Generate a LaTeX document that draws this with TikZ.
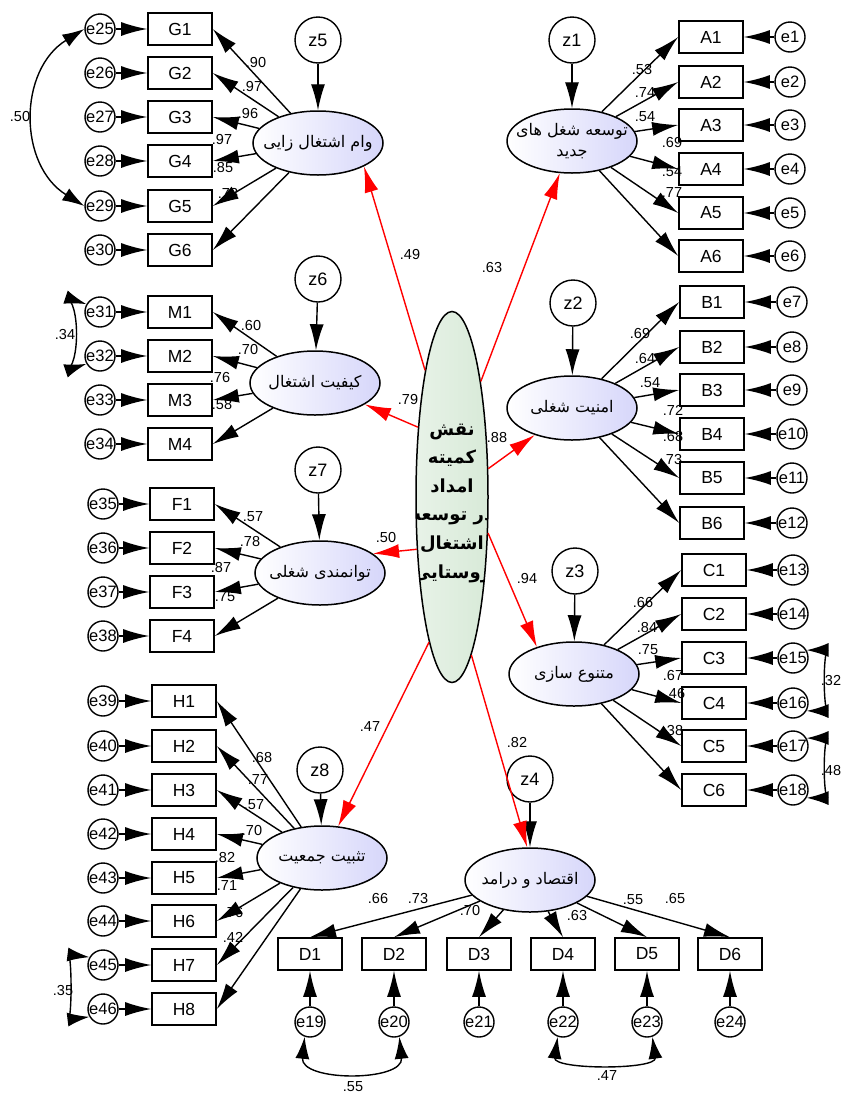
\documentclass[tikz,border=0pt]{standalone}
\usepackage{fontspec}
\setmainfont{Liberation Sans}
\newfontfamily\fa[Script=Arabic]{DejaVu Sans}
\TeXXeTstate=1
\usetikzlibrary{shapes.geometric,arrows.meta}
\definecolor{lav}{RGB}{214,214,250}
\definecolor{cgreen}{RGB}{216,234,216}
\begin{document}
\begin{tikzpicture}[x=1pt,y=-1pt,
  obs/.style={draw, rectangle, line width=1.6pt, minimum width=64pt, minimum height=32pt, inner sep=0pt, font=\fontsize{17.5}{17.5}\selectfont},
  err/.style={draw, circle, line width=1.4pt, minimum size=30pt, inner sep=0pt, font=\fontsize{16.5}{16.5}\selectfont},
  dis/.style={draw, circle, line width=1.4pt, minimum size=46pt, inner sep=0pt, font=\fontsize{18}{18}\selectfont},
  lat/.style={draw, ellipse, line width=1.5pt, minimum width=130pt, minimum height=64pt, inner sep=0pt, left color=white, right color=lav},
  cen/.style={draw, ellipse, line width=1.5pt, minimum width=72pt, minimum height=371pt, inner sep=0pt, left color=cgreen!60, right color=cgreen},
  ltext/.style={font=\fa\fontsize{16}{21}\selectfont, align=center, inner sep=0pt},
  arr/.style={line width=1.4pt, -{Latex[length=26pt,width=14pt]}},
  rarr/.style={arr, red},
  cov/.style={line width=1.4pt, {Latex[length=22pt,width=14pt]}-{Latex[length=22pt,width=14pt]}},
  lab/.style={font=\fontsize{14.5}{14.5}\selectfont, inner sep=0pt}
]
\path[fill=white] (0,0) rectangle (845,1093);
\useasboundingbox (0,0) rectangle (845,1093);

% ---------- latent variables ----------
\node[lat] (LG) at (318,143) {};
\node[ltext] at (LG) {\beginR وام اشتغال زایی\endR};
\node[lat] (LA) at (572,141) {};
\node[ltext] at (LA) {\beginR توسعه شغل های\endR\\\beginR جدید\endR};
\node[lat] (LM) at (315,383) {};
\node[ltext] at (LM) {\beginR کیفیت اشتغال\endR};
\node[lat] (LB) at (572,408) {};
\node[ltext] at (LB) {\beginR امنیت شغلی\endR};
\node[lat] (LF) at (320,573) {};
\node[ltext] at (LF) {\beginR توانمندی شغلی\endR};
\node[lat] (LC) at (574,674) {};
\node[ltext] at (LC) {\beginR متنوع سازی\endR};
\node[lat] (LH) at (322,858) {};
\node[ltext] at (LH) {\beginR تثبیت جمعیت\endR};
\node[lat] (LD) at (530,880) {};
\node[ltext] at (LD) {\beginR اقتصاد و درامد\endR};

% central latent
\node[cen] (C) at (452,497) {};
\begin{scope}
\clip (452,497) ellipse [x radius=36pt, y radius=185pt];
\node[font=\fa\bfseries\fontsize{18}{28.6}\selectfont, align=center, inner sep=0pt] at (452,503)
 {\beginR نقش\endR\\\beginR کمیته\endR\\\beginR امداد\endR\\\beginR در توسعه\endR\\\beginR اشتغال\endR\\\beginR روستایی\endR};
\end{scope}

% disturbances
\node[dis] (z5) at (318,40) {z5};
\node[dis] (z1) at (572,40) {z1};
\node[dis] (z6) at (318,279) {z6};
\node[dis] (z2) at (573,303) {z2};
\node[dis] (z7) at (318,470) {z7};
\node[dis] (z3) at (575,571) {z3};
\node[dis] (z8) at (320,770) {z8};
\node[dis] (z4) at (530,779) {z4};
\foreach \z/\l in {z5/LG,z1/LA,z6/LM,z2/LB,z7/LF,z3/LC,z8/LH,z4/LD}{
  \draw[arr] (\z) -- (\l);
}

% ---------- labels ----------
\node[lab] at (256,63) {.90};
\node[lab] at (252,87) {.97};
\node[lab] at (248,114) {.96};
\node[lab] at (222,140) {.97};
\node[lab] at (223,168) {.85};
\node[lab] at (228,194) {.73};
\node[lab] at (642,70) {.53};
\node[lab] at (645,93) {.74};
\node[lab] at (645,117) {.54};
\node[lab] at (672,143) {.69};
\node[lab] at (672,172) {.54};
\node[lab] at (672,193) {.77};
\node[lab] at (251,326) {.60};
\node[lab] at (248,350) {.70};
\node[lab] at (220,378) {.76};
\node[lab] at (222,405) {.58};
\node[lab] at (253,517) {.57};
\node[lab] at (250,541) {.78};
\node[lab] at (221,568) {.87};
\node[lab] at (225,597) {.75};
\node[lab] at (262,757) {.68};
\node[lab] at (258,780) {.77};
\node[lab] at (254,805) {.57};
\node[lab] at (252,830) {.70};
\node[lab] at (225,857) {.82};
\node[lab] at (227,886) {.71};
\node[lab] at (233,912) {.76};
\node[lab] at (233,937) {.42};
\node[lab] at (640,334) {.69};
\node[lab] at (645,359) {.64};
\node[lab] at (650,383) {.54};
\node[lab] at (673,410) {.72};
\node[lab] at (673,437) {.68};
\node[lab] at (672,460) {.73};
\node[lab] at (643,602) {.66};
\node[lab] at (647,627) {.84};
\node[lab] at (648,650) {.75};
\node[lab] at (673,675) {.67};
\node[lab] at (675,693) {.46};
\node[lab] at (673,730) {.38};
\node[lab] at (378,898) {.66};
\node[lab] at (418,898) {.73};
\node[lab] at (470,910) {.70};
\node[lab] at (577,915) {.63};
\node[lab] at (633,900) {.55};
\node[lab] at (675,898) {.65};
% structural labels
\node[lab] at (410,255) {.49};
\node[lab] at (492,268) {.63};
\node[lab] at (408,400) {.79};
\node[lab] at (497,438) {.88};
\node[lab] at (386,537) {.50};
\node[lab] at (527,578) {.94};
\node[lab] at (370,727) {.47};
\node[lab] at (517,742) {.82};
% covariance labels
\node[lab] at (20,117) {.50};
\node[lab] at (65,335) {.34};
\node[lab] at (63,990) {.35};
\node[lab] at (831,680) {.32};
\node[lab] at (831,770) {.48};
\node[lab] at (353,1087) {.55};
\node[lab] at (607,1075) {.47};

% ---------- indicator blocks ----------
% G
\foreach \i/\y in {1/29,2/73,3/117,4/161,5/206,6/250}{
  \pgfmathtruncatemacro\e{24+\i}
  \node[obs] (G\i) at (180,\y) {G\i};
  \node[err] (e\e) at (100,\y) {e\e};
  \draw[arr] (e\e) -- (G\i);
  \draw[arr] (LG) -- (G\i.east);
}
% M
\foreach \i/\y in {1/312,2/356,3/400,4/444}{
  \pgfmathtruncatemacro\e{30+\i}
  \node[obs] (M\i) at (180,\y) {M\i};
  \node[err] (e\e) at (100,\y) {e\e};
  \draw[arr] (e\e) -- (M\i);
  \draw[arr] (LM) -- (M\i.east);
}
% F
\foreach \i/\y in {1/504,2/548,3/592,4/636}{
  \pgfmathtruncatemacro\e{34+\i}
  \node[obs] (F\i) at (182,\y) {F\i};
  \node[err] (e\e) at (103,\y) {e\e};
  \draw[arr] (e\e) -- (F\i);
  \draw[arr] (LF) -- (F\i.east);
}
% H
\foreach \i/\y in {1/701,2/746,3/790,4/834,5/878,6/921,7/965,8/1009}{
  \pgfmathtruncatemacro\e{38+\i}
  \node[obs] (H\i) at (184,\y) {H\i};
  \node[err] (e\e) at (103,\y) {e\e};
  \draw[arr] (e\e) -- (H\i);
  \draw[arr] (LH) -- (H\i.east);
}
% A
\foreach \i/\y in {1/37,2/82,3/125,4/169,5/213,6/256}{
  \node[obs] (A\i) at (711,\y) {A\i};
  \node[err] (e\i) at (790,\y) {e\i};
  \draw[arr] (e\i) -- (A\i);
  \draw[arr] (LA) -- (A\i.west);
}
% B
\foreach \i/\y in {1/302,2/347,3/390,4/434,5/478,6/523}{
  \pgfmathtruncatemacro\e{6+\i}
  \node[obs] (B\i) at (712,\y) {B\i};
  \node[err] (e\e) at (792,\y) {e\e};
  \draw[arr] (e\e) -- (B\i);
  \draw[arr] (LB) -- (B\i.west);
}
% C
\foreach \i/\y in {1/570,2/614,3/658,4/703,5/746,6/790}{
  \pgfmathtruncatemacro\e{12+\i}
  \node[obs] (C\i) at (714,\y) {C\i};
  \node[err] (e\e) at (793,\y) {e\e};
  \draw[arr] (e\e) -- (C\i);
  \draw[arr] (LC) -- (C\i.west);
}
% D
\foreach \i/\x in {1/310,2/394,3/479,4/563,5/647,6/730}{
  \pgfmathtruncatemacro\e{18+\i}
  \node[obs] (D\i) at (\x,954) {D\i};
  \node[err] (e\e) at (\x,1022) {e\e};
  \draw[arr] (e\e) -- (D\i);
  \draw[arr] (LD) -- (D\i.north);
}

% ---------- structural (red) paths ----------
\draw[rarr] (C.102) -- (LG.-27);
\draw[rarr] (C.76) -- (LA);
\draw[rarr] (C.116) -- (LM);
\draw[rarr] (C.38) -- (LB);
\draw[rarr] (C.236) -- (LF.20);
\draw[rarr] (C.-45) -- (LC.144);
\draw[rarr] (C.261) -- (LH.63);
\draw[rarr] (C.-83) -- (LD.95);

% ---------- covariances ----------
\draw[cov] (e25.west) .. controls (18,70) and (18,165) .. (e29.west);
\draw[cov] (e31.150) .. controls (80,302) and (80,366) .. (e32.210);
\draw[cov] (e45.150) .. controls (72,955) and (72,1019) .. (e46.210);
\draw[cov] (e15.30) .. controls (823,650) and (823,711) .. (e16.-30);
\draw[cov] (e17.30) .. controls (823,738) and (823,798) .. (e18.-30);
\draw[cov] (e19.-110) .. controls (300,1082) and (404,1082) .. (e20.-70);
\draw[cov] (e22.-110) .. controls (553,1070) and (657,1070) .. (e23.-70);
\end{tikzpicture}
\end{document}
